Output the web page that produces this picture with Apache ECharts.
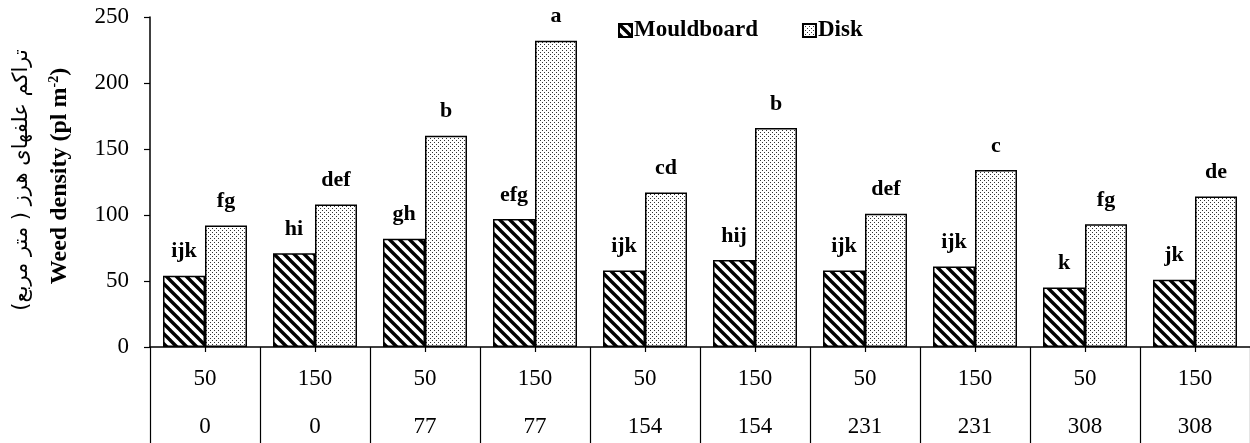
<!DOCTYPE html>
<html><head><meta charset="utf-8">
<script src="https://cdn.jsdelivr.net/npm/echarts@6/dist/echarts.min.js"></script>
<style>html,body{margin:0;padding:0;background:#fff}#c{width:1250px;height:443px}</style>
</head><body><div id="c"></div>
<script>
// ---- data ----
const seedRates = ['50','150','50','150','50','150','50','150','50','150'];
const nitrogen = ['0','0','77','77','154','154','231','231','308','308'];
const mouldboard = [54, 71, 82, 97, 58, 66, 58, 61, 45, 51];
const disk = [92, 108, 160, 232, 117, 166, 101, 134, 93, 114];
const mouldLetters = ['ijk','hi','gh','efg','ijk','hij','ijk','ijk','k','jk'];
const diskLetters = ['fg','def','b','a','cd','b','def','c','fg','de'];
const yTicks = [0, 50, 100, 150, 200, 250];

const categories = seedRates.map((s, i) => i);

function stripeCanvas() {
  const s = 10, c = document.createElement('canvas');
  c.width = s; c.height = s;
  const g = c.getContext('2d');
  g.fillStyle = '#fff'; g.fillRect(0, 0, s, s);
  g.strokeStyle = '#000'; g.lineWidth = 3.4;
  for (let x0 = -s; x0 <= s; x0 += s) {
    g.beginPath(); g.moveTo(x0 - 2, -2); g.lineTo(x0 + s + 2, s + 2); g.stroke();
  }
  return c;
}
function dotCanvas() {
  const s = 4, c = document.createElement('canvas');
  c.width = s; c.height = s;
  const g = c.getContext('2d');
  g.fillStyle = '#fff'; g.fillRect(0, 0, s, s);
  g.fillStyle = '#333';
  g.fillRect(0, 0, 1, 1); g.fillRect(2, 2, 1, 1);
  return c;
}

const serif = '"Liberation Serif", "Times New Roman", serif';
const chart = echarts.init(document.getElementById('c'), null, {renderer: 'canvas'});
chart.setOption({
  animation: false,
  backgroundColor: '#fff',
  grid: {left: 150, right: 0, top: 17, bottom: 96, containLabel: false, outerBoundsMode: 'none'},
  legend: {
    top: 14, left: 613, icon: 'rect',
    itemWidth: 13, itemHeight: 13, itemGap: 44,
    textStyle: {fontFamily: serif, fontWeight: 'bold', fontSize: 23, color: '#000', padding: [0,0,0,-3]},
    data: ['Mouldboard', 'Disk']
  },
  xAxis: [{
    type: 'category', data: categories,
    axisLine: {lineStyle: {color: '#000', width: 1.5}},
    axisTick: {show: true, alignWithLabel: true, length: 5, lineStyle: {color: '#000', width: 1.2}},
    axisLabel: {
      interval: 0, margin: 8, lineHeight: 48,
      fontFamily: serif, fontSize: 23, color: '#000',
      formatter: (v, i) => seedRates[i] + '\n' + nitrogen[i]
    }
  }, {
    type: 'category', data: categories, position: 'bottom',
    axisLine: {show: false},
    axisTick: {show: true, alignWithLabel: false, length: 96, lineStyle: {color: '#000', width: 1.2}},
    axisLabel: {show: false}
  }],
  yAxis: {
    type: 'value', min: 0, max: 250, interval: 50,
    axisLine: {show: true, lineStyle: {color: '#000', width: 1.5}},
    axisTick: {show: true, length: 6, lineStyle: {color: '#000', width: 1.2}},
    splitLine: {show: false},
    axisLabel: {margin: 21, fontFamily: serif, fontSize: 23, color: '#000',
      formatter: v => yTicks.includes(v) ? String(v) : ''}
  },
  graphic: [
    {type: 'text', x: 22, y: 180, rotation: Math.PI / 2,
     style: {text: 'تراکم علفهای هرز ( متر مربع)', font: '21px "DejaVu Sans"', fill: '#000',
       textAlign: 'center', textVerticalAlign: 'middle'}},
    {type: 'text', x: 60, y: 176, rotation: Math.PI / 2,
     style: {text: 'Weed density (pl m{sup|-2})', fill: '#000',
       fontFamily: serif, fontWeight: 'bold', fontSize: 24,
       textAlign: 'center', textVerticalAlign: 'middle',
       rich: {sup: {fontFamily: serif, fontWeight: 'bold', fontSize: 14, padding: [0,0,11,0], fill: '#000'}}}}
  ],
  series: [{
    name: 'Mouldboard', type: 'bar', data: mouldboard, barWidth: 42, barGap: '0%',
    itemStyle: {color: {image: stripeCanvas(), repeat: 'repeat'}, borderColor: '#000', borderWidth: 1.5},
    label: {show: true, position: 'top', distance: 13, fontFamily: serif, fontWeight: 'bold', fontSize: 22, color: '#000',
      formatter: p => mouldLetters[p.dataIndex]}
  }, {
    name: 'Disk', type: 'bar', data: disk, barWidth: 42,
    itemStyle: {color: {image: dotCanvas(), repeat: 'repeat'}, borderColor: '#000', borderWidth: 1.5},
    label: {show: true, position: 'top', distance: 13, fontFamily: serif, fontWeight: 'bold', fontSize: 22, color: '#000',
      formatter: p => diskLetters[p.dataIndex]}
  }]
});
</script></body></html>
